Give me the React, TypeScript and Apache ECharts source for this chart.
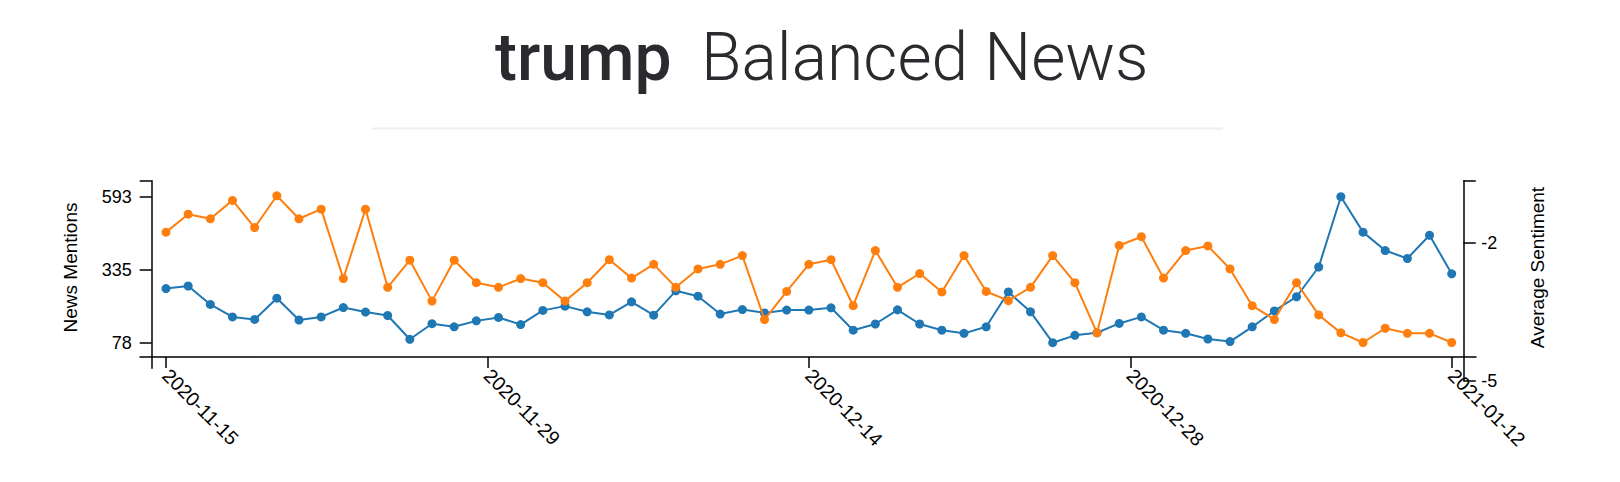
import React, { useEffect, useRef } from "react";
import * as echarts from "echarts";

const DATES = [
  "2020-11-15", "2020-11-16", "2020-11-17", "2020-11-18", "2020-11-19", "2020-11-20", "2020-11-21", "2020-11-22",
  "2020-11-23", "2020-11-24", "2020-11-25", "2020-11-26", "2020-11-27", "2020-11-28", "2020-11-29", "2020-11-30",
  "2020-12-01", "2020-12-02", "2020-12-03", "2020-12-04", "2020-12-05", "2020-12-06", "2020-12-07", "2020-12-08",
  "2020-12-09", "2020-12-10", "2020-12-11", "2020-12-12", "2020-12-13", "2020-12-14", "2020-12-15", "2020-12-16",
  "2020-12-17", "2020-12-18", "2020-12-19", "2020-12-20", "2020-12-21", "2020-12-22", "2020-12-23", "2020-12-24",
  "2020-12-25", "2020-12-26", "2020-12-27", "2020-12-28", "2020-12-29", "2020-12-30", "2020-12-31", "2021-01-01",
  "2021-01-02", "2021-01-03", "2021-01-04", "2021-01-05", "2021-01-06", "2021-01-07", "2021-01-08", "2021-01-09",
  "2021-01-10", "2021-01-11", "2021-01-12",
];

const MENTIONS = [
  269, 278, 213, 169, 160, 235, 158, 169, 202, 186, 174, 90, 145, 134, 155, 167, 142, 192, 207, 187, 176, 222, 175,
  261, 242, 179, 195, 183, 193, 193, 201, 122, 144, 194, 144, 122, 111, 134, 257, 187, 78, 104, 113, 146, 169, 122,
  111, 91, 82, 134, 190, 240, 345, 593, 468, 403, 375, 457, 321,
];

const SENTIMENT = [
  -1.77, -1.38, -1.48, -1.08, -1.67, -0.98, -1.48, -1.27, -2.78, -1.27,
  -2.97, -2.38, -3.27, -2.38, -2.87, -2.97, -2.78, -2.87, -3.27, -2.87,
  -2.37, -2.77, -2.47, -2.97, -2.57, -2.47, -2.28, -3.67, -3.06, -2.47,
  -2.37, -3.37, -2.17, -2.97, -2.67, -3.07, -2.28, -3.06, -3.26, -2.97,
  -2.28, -2.87, -3.96, -2.06, -1.87, -2.77, -2.17, -2.07, -2.57, -3.37,
  -3.67, -2.87, -3.57, -3.96, -4.17, -3.86, -3.97, -3.97, -4.17,
];

const X_TICKS = [0, 14.5, 29, 43.5, 58];
const LEFT_TICKS = [78, 335, 593];
const RIGHT_TICKS = [-5, -2];

const TITLE_BOLD = "trump";
const TITLE_LIGHT = "Balanced News";
const LEFT_NAME = "News Mentions";
const RIGHT_NAME = "Average Sentiment";

const FONT = "'Liberation Sans', Arial, Helvetica, sans-serif";

export default function App() {
  const ref = useRef<HTMLDivElement>(null);

  useEffect(() => {
    if (!ref.current) return;
    const chart = echarts.init(ref.current, undefined, { renderer: "svg" });

    const axisColor = "#000";
    const lineStyle = { color: axisColor, width: 1.5 };

    const gridA = { left: 151.7, top: 180.7, width: 1311.6, height: 187.6 };
    const gridB = { left: 151.7, top: 180.7, width: 1311.6, height: 200 };
    const gridC = { left: 140, top: 180.7, width: 1336, height: 176.3 };

    const xMinAB = -0.645;
    const xMaxAB = 58.523;
    const xMinC = -1.173;
    const xMaxC = 59.096;

    const leftMin = -12.3;
    const leftMax = 649.4;
    const rightMin = -5;
    const rightMax = -0.652;

    const option: any = {
      animation: false,
      backgroundColor: "#fff",
      grid: [
        { ...gridA, containLabel: false },
        { ...gridB, containLabel: false },
        { ...gridC, containLabel: false },
      ],
      xAxis: [
        { type: "value", gridIndex: 0, min: xMinAB, max: xMaxAB, show: false },
        { type: "value", gridIndex: 1, min: xMinAB, max: xMaxAB, show: false },
        {
          type: "value",
          gridIndex: 2,
          min: xMinC,
          max: xMaxC,
          axisLine: { show: true, onZero: false, lineStyle },
          axisTick: { show: true, customValues: X_TICKS, length: 11, lineStyle },
          axisLabel: {
            show: true,
            customValues: X_TICKS,
            formatter: (v: number) => DATES[Math.floor(v + 1e-6)] ?? "",
            rotate: -45,
            margin: 15,
            fontSize: 19.5,
            fontFamily: FONT,
            color: axisColor,
          },
          splitLine: { show: false },
        },
      ],
      yAxis: [
        {
          type: "value",
          gridIndex: 0,
          position: "left",
          min: leftMin,
          max: leftMax,
          axisLine: { show: true, onZero: false, lineStyle },
          axisTick: { show: true, customValues: [...LEFT_TICKS, leftMax], length: 12, lineStyle },
          axisLabel: {
            show: true,
            customValues: LEFT_TICKS,
            margin: 20,
            fontSize: 18,
            fontFamily: FONT,
            color: axisColor,
          },
          splitLine: { show: false },
        },
        {
          type: "value",
          gridIndex: 1,
          position: "right",
          min: rightMin,
          max: rightMax,
          axisLine: { show: true, onZero: false, lineStyle },
          axisTick: { show: true, customValues: [...RIGHT_TICKS, rightMax], length: 12.5, lineStyle },
          axisLabel: {
            show: true,
            customValues: RIGHT_TICKS,
            margin: 18,
            fontSize: 18,
            fontFamily: FONT,
            color: axisColor,
          },
          splitLine: { show: false },
        },
        { type: "value", gridIndex: 2, min: 0, max: 1, show: false },
      ],
      graphic: [
        {
          type: "text",
          x: 495,
          y: 57,
          style: {
            text: TITLE_BOLD,
            fontSize: 66,
            fontFamily: "Roboto, 'Open Sans', sans-serif",
            fontWeight: 500,
            fill: "#2b2b2f",
            align: "left",
            verticalAlign: "middle",
          },
        },
        {
          type: "text",
          x: 701,
          y: 57,
          style: {
            text: TITLE_LIGHT,
            fontSize: 66,
            fontFamily: "Roboto, 'Open Sans', sans-serif",
            fontWeight: 300,
            fill: "#2b2b2f",
            align: "left",
            verticalAlign: "middle",
          },
        },
        {
          type: "line",
          shape: { x1: 372, y1: 128.5, x2: 1223, y2: 128.5 },
          style: { stroke: "#eeeeee", lineWidth: 2 },
        },
        {
          type: "text",
          x: 70,
          y: 267.5,
          rotation: Math.PI / 2,
          style: {
            text: LEFT_NAME,
            fontSize: 19,
            fontFamily: FONT,
            fill: "#000",
            align: "center",
            verticalAlign: "middle",
          },
        },
        {
          type: "text",
          x: 1537.5,
          y: 267.5,
          rotation: Math.PI / 2,
          style: {
            text: RIGHT_NAME,
            fontSize: 19,
            fontFamily: FONT,
            fill: "#000",
            align: "center",
            verticalAlign: "middle",
          },
        },
      ],
      series: [
        {
          name: LEFT_NAME,
          type: "line",
          xAxisIndex: 0,
          yAxisIndex: 0,
          data: MENTIONS.map((v, i) => [i, v]),
          symbol: "circle",
          symbolSize: 9,
          showSymbol: true,
          lineStyle: { color: "#1f77b4", width: 2 },
          itemStyle: { color: "#1f77b4" },
          z: 2,
        },
        {
          name: RIGHT_NAME,
          type: "line",
          xAxisIndex: 1,
          yAxisIndex: 1,
          data: SENTIMENT.map((v, i) => [i, v]),
          symbol: "circle",
          symbolSize: 9,
          showSymbol: true,
          lineStyle: { color: "#ff7f0e", width: 2 },
          itemStyle: { color: "#ff7f0e" },
          z: 3,
        },
      ],
    };

    chart.setOption(option);
    return () => chart.dispose();
  }, []);

  return (
    <div
      ref={ref}
      style={{ position: "absolute", left: 0, top: 0, width: 1620, height: 482, background: "#fff" }}
    />
  );
}
